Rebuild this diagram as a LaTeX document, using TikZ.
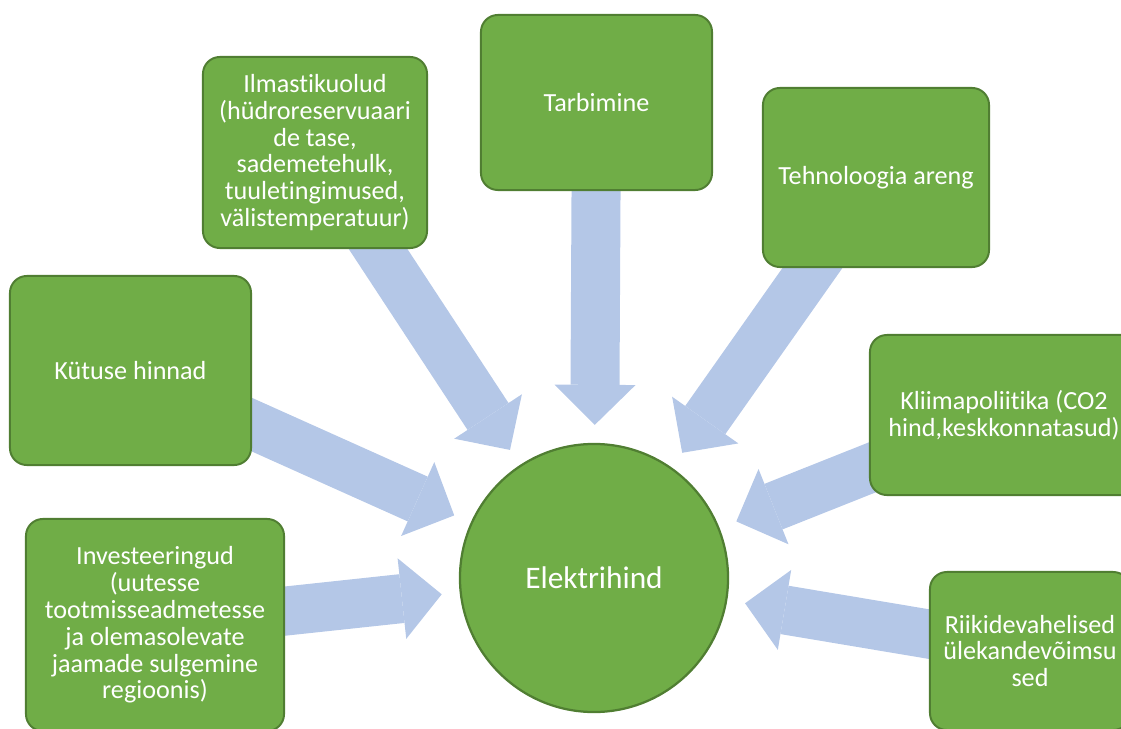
\documentclass[tikz,border=0pt]{standalone}
\usepackage{fontspec}
\setmainfont{Carlito}[Ligatures=NoCommon]
\usetikzlibrary{arrows.meta,backgrounds}
\definecolor{leaf}{HTML}{70AD47}
\definecolor{leafdark}{HTML}{507E32}
\definecolor{pale}{HTML}{B4C7E7}
\tikzset{
  fac/.style  = {draw=leafdark, fill=leaf, line width=1.4pt, rounded corners=12pt,
                 align=center, text=white, inner sep=2pt,
                 font=\fontsize{18.6}{19.1}\selectfont},
  hub/.style  = {circle, draw=leafdark, fill=leaf, line width=1.6pt, text=white,
                 minimum size=6.7cm, font=\fontsize{22.3}{26}\selectfont},
  big/.style  = {draw=pale, line width=1.225cm,
                 -{Triangle[width=2.025cm, length=1cm, line width=0pt]},
                 shorten >=0.45cm, shorten <=-0.6cm},
}
\begin{document}
\begin{tikzpicture}[x=0.025cm, y=-0.025cm]
\useasboundingbox (0,0) rectangle (1121,729);

\node[hub] (price) at (594,578) {Elektrihind};

\node[fac, minimum width=5.6cm, minimum height=4.775cm] (weather) at (315,152.5)
     {Ilmastikuolud\\(hüdroreservuaari\\de tase,\\sademetehulk,\\tuuletingimused,\\välistemperatuur)};
\node[fac, minimum width=5.775cm, minimum height=4.375cm] (use) at (596.5,102.5)
     {Tarbimine};
\node[fac, minimum width=5.65cm, minimum height=4.475cm] (tech) at (876,177.5)
     {Tehnoloogia areng};
\node[fac, minimum width=6.025cm, minimum height=4.725cm] (fuel) at (130.5,370.5)
     {Kütuse hinnad};
\node[fac, minimum width=6.7cm, minimum height=4cm] (climate) at (1004,415)
     {Kliimapoliitika (CO2\\hind,keskkonnatasud)};
\node[fac, minimum width=6.45cm, minimum height=5.3cm] (invest) at (155,625)
     {Investeeringud\\(uutesse\\tootmisseadmetesse\\ja olemasolevate\\jaamade sulgemine\\regioonis)};
\node[fac, minimum width=5cm, minimum height=3.95cm] (links) at (1030,651)
     {Riikidevahelised\\ülekandevõimsu\\sed};

\begin{scope}[on background layer]
\draw[big] (weather) -- (price);
\draw[big] (use) -- (price);
\draw[big] (tech) -- (price);
\draw[big] (fuel) -- (price);
\draw[big] (climate) -- (price);
\draw[big] (invest) -- (price);
\draw[big] (links) -- (price);
\end{scope}
\end{tikzpicture}
\end{document}
